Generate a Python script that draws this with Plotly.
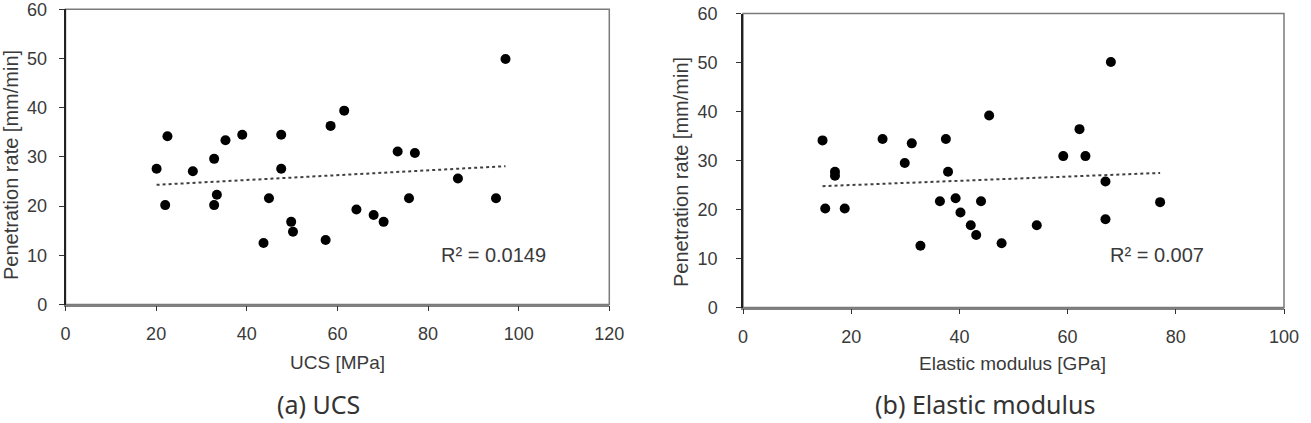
import numpy as np
import plotly.graph_objects as go

W, H = 1311, 423

# ---------- data ----------
ucs = [20.1, 22.5, 22.0, 28.1, 32.8, 32.8, 33.4, 35.3, 39.0, 43.7, 44.9, 47.6, 47.6, 49.8,
       50.2, 57.4, 58.5, 61.5, 64.2, 68.0, 70.2, 73.3, 75.8, 77.1, 86.6, 95.0, 97.1]
pr_ucs = [27.6, 34.2, 20.2, 27.1, 29.6, 20.2, 22.3, 33.4, 34.5, 12.5, 21.6, 34.5, 27.6, 16.8,
          14.8, 13.1, 36.3, 39.4, 19.3, 18.2, 16.8, 31.1, 21.6, 30.8, 25.6, 21.6, 49.9]

emod = [14.7, 15.2, 17.0, 17.0, 18.8, 25.8, 29.9, 31.2, 32.8, 36.4, 37.5, 37.9, 39.3, 40.2,
        42.1, 43.1, 44.0, 45.5, 47.8, 54.3, 59.2, 62.2, 63.3, 67.0, 67.0, 68.0, 77.1]
pr_emod = [34.1, 20.2, 27.7, 26.9, 20.2, 34.4, 29.5, 33.5, 12.6, 21.7, 34.4, 27.7, 22.3, 19.4,
           16.8, 14.8, 21.7, 39.2, 13.1, 16.8, 30.9, 36.4, 30.9, 25.7, 18.0, 50.1, 21.5]

r2_labels = ["R² = 0.0149", "R² = 0.007"]
x_titles = ["UCS [MPa]", "Elastic modulus [GPa]"]
y_title = "Penetration rate [mm/min]"
captions = ["(a) UCS", "(b) Elastic modulus"]
x_ranges = [(0, 120), (0, 100)]
y_range = (0, 60)

# ---------- helpers ----------
def px(x):
    return x / W

def py(y):
    return 1 - y / H

TXT = "#3a3a3a"
FONT = "Liberation Sans, Arial, sans-serif"

fig = go.Figure()

def add_panel(xs, ys, xa, ya):
    fig.add_trace(go.Scatter(x=xs, y=ys, mode="markers", xaxis=xa, yaxis=ya,
                             marker=dict(size=10, color="black"), showlegend=False,
                             hoverinfo="x+y"))
    k, b = np.polyfit(xs, ys, 1)
    xt = np.array([min(xs), max(xs)])
    fig.add_trace(go.Scatter(x=xt, y=k * xt + b, mode="lines", xaxis=xa, yaxis=ya,
                             line=dict(color="#404040", width=2, dash="dot"),
                             showlegend=False, hoverinfo="skip"))

add_panel(ucs, pr_ucs, "x", "y")
add_panel(emod, pr_emod, "x2", "y2")

axis_common = dict(showgrid=False, zeroline=False, ticks="outside", ticklen=5,
                   tickwidth=1, automargin=False, ticklabeloverflow="allow",
                   tickfont=dict(family=FONT, size=18, color=TXT))

fig.update_layout(
    width=W, height=H, margin=dict(l=0, r=0, t=0, b=0, pad=0, autoexpand=False),
    paper_bgcolor="white", plot_bgcolor="white",
    xaxis=dict(domain=[px(65.5), px(609.3)], range=list(x_ranges[0]), dtick=20,
               showline=True, linecolor="#808080", linewidth=1.5, tickcolor="#333",
               anchor="y", ticklabelstandoff=7, **axis_common),
    yaxis=dict(domain=[py(304.5), py(9.3)], range=list(y_range), dtick=10,
               showline=True, linecolor="#222", linewidth=1.5, tickcolor="#333",
               anchor="x", ticklabelstandoff=8, **axis_common),
    xaxis2=dict(domain=[px(743), px(1284)], range=list(x_ranges[1]), dtick=20,
                showline=True, linecolor="#808080", linewidth=1.5, tickcolor="#333",
                anchor="y2", ticklabelstandoff=7, **axis_common),
    yaxis2=dict(domain=[py(307.5), py(13.5)], range=list(y_range), dtick=10,
                showline=True, linecolor="#222", linewidth=1.5, tickcolor="#333",
                anchor="x2", ticklabelstandoff=15, **axis_common),
)

# plot-area frames
for xa, ya in [("x", "y"), ("x2", "y2")]:
    fig.add_shape(type="rect", xref=f"{xa} domain", yref=f"{ya} domain",
                  x0=0, x1=1, y0=0, y1=1, line=dict(color="#7a7a7a", width=1.5),
                  layer="below")

ann = []
def add_text(cx, cy, t, size, family=FONT, color=TXT, angle=0):
    ann.append(dict(x=px(cx), y=py(cy), xref="paper", yref="paper", text=t,
                    xanchor="center", yanchor="middle", textangle=angle,
                    showarrow=False, font=dict(family=family, size=size, color=color)))

# R² labels
for (cx, cy), t in zip([(493, 255), (1157, 254.5)], r2_labels):
    add_text(cx, cy, t, 20)
# x titles
for (cx, cy), t in zip([(337, 362), (1012, 363)], x_titles):
    add_text(cx, cy, t, 19)
# y titles
for (cx, cy) in [(11, 165), (681, 172)]:
    add_text(cx, cy, y_title, 20, angle=-90)
# captions
for (cx, cy), t in zip([(318, 404), (985, 404)], captions):
    add_text(cx, cy, t, 25, family="Noto Sans, Open Sans, sans-serif", color="#333")
fig.update_layout(annotations=ann)

fig.write_html("out.html")
